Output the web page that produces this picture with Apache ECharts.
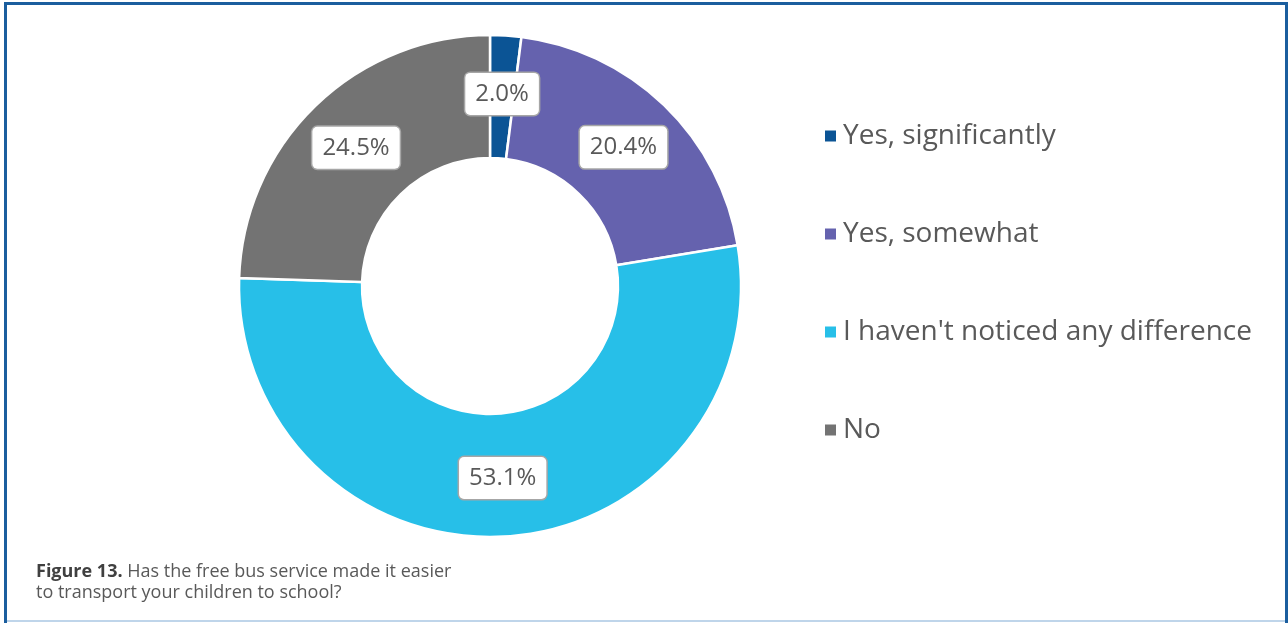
<!DOCTYPE html>
<html>
<head>
<meta charset="utf-8">
<script src="https://cdn.jsdelivr.net/npm/echarts@6/dist/echarts.min.js"></script>
<style>
  html, body { margin: 0; padding: 0; background: #fff; }
  #chart { width: 1288px; height: 623px; }
</style>
</head>
<body>
<div id="chart"></div>
<script>
// Survey answers and their shares (%)
const categories = ['Yes, significantly', 'Yes, somewhat', "I haven't noticed any difference", 'No'];
const shares = [2.0, 20.4, 53.1, 24.5];
const colors = ['#0B5495', '#6562AE', '#27BFE8', '#737373'];

const font = '"Open Sans", "Noto Sans", sans-serif';

const chart = echarts.init(document.getElementById('chart'), null, { renderer: 'canvas' });

chart.setOption({
  animation: false,
  color: colors,
  legend: {
    orient: 'vertical',
    left: 818,
    top: 115,
    itemWidth: 13,
    itemHeight: 13,
    itemGap: 66,
    icon: 'rect',
    data: categories,
    textStyle: { fontFamily: font, fontSize: 28, color: '#595959', lineHeight: 32, padding: [0, 0, 0, 1] }
  },
  graphic: [
    // frame around the figure
    { type: 'rect', shape: { x: 4, y: 2, width: 3, height: 621 }, style: { fill: '#1B5E9E' }, silent: true },
    { type: 'rect', shape: { x: 4, y: 2, width: 1284, height: 3 }, style: { fill: '#1B5E9E' }, silent: true },
    { type: 'rect', shape: { x: 1285, y: 2, width: 3, height: 621 }, style: { fill: '#1B5E9E' }, silent: true },
    { type: 'rect', shape: { x: 7, y: 620, width: 1278, height: 2 }, style: { fill: '#BFD5EA' }, silent: true },
    // caption
    {
      type: 'text', left: 36, top: 561,
      style: {
        text: '{b|Figure 13.} Has the free bus service made it easier\nto transport your children to school?',
        rich: {
          b: { fontFamily: font, fontSize: 18, fontWeight: 'bold', fill: '#404040', lineHeight: 21 }
        },
        font: '18px ' + font,
        fill: '#595959',
        lineHeight: 21
      }
    }
  ],
  series: [{
    type: 'pie',
    center: [490, 286],
    radius: [128, 251],
    startAngle: 90,
    clockwise: true,
    data: categories.map((name, i) => ({ name, value: shares[i] })),
    itemStyle: { borderColor: '#fff', borderWidth: 2.5 },
    label: {
      show: true,
      position: 'inside',
      formatter: p => p.value.toFixed(1) + '%',
      fontFamily: font,
      fontSize: 24,
      color: '#595959',
      backgroundColor: '#fff',
      borderColor: '#A6A6A6',
      borderWidth: 1.5,
      borderRadius: 5,
      padding: [10, 10, 8, 10]
    },
    labelLine: { show: false },
    emphasis: { disabled: true }
  }]
});
</script>
</body>
</html>
